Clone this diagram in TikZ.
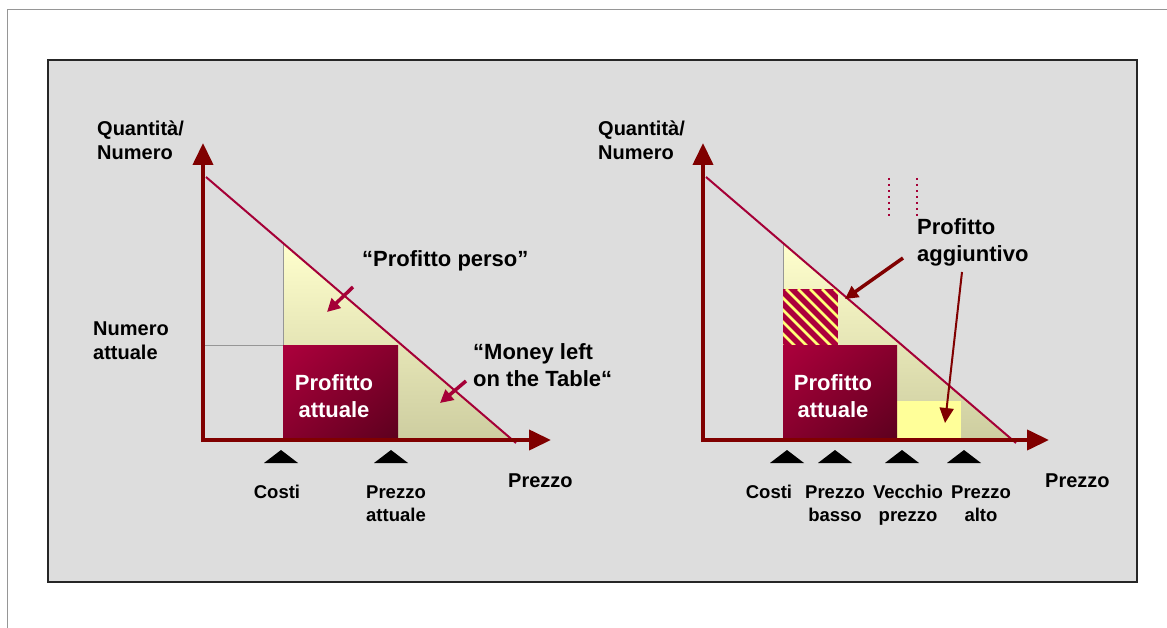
\documentclass[tikz,border=0pt]{standalone}
\usepackage{fontspec}
\setmainfont{Liberation Sans}
\usetikzlibrary{arrows.meta,shadings}
\definecolor{axisred}{RGB}{128,0,0}
\definecolor{demandred}{RGB}{165,0,55}
\definecolor{panelgray}{RGB}{221,221,221}
\definecolor{framegray}{RGB}{150,150,150}
\definecolor{paleyellow}{RGB}{255,255,205}
\definecolor{tanyellow}{RGB}{205,205,160}
\definecolor{profitlight}{RGB}{172,0,60}
\definecolor{profitmid}{RGB}{135,0,45}
\definecolor{profitdark}{RGB}{92,0,30}
\definecolor{brightyellow}{RGB}{255,255,153}
\definecolor{stripeyellow}{RGB}{255,255,120}
\tikzset{
  axis/.style={draw=axisred, line width=4pt, -{Triangle[width=20pt,length=22pt]}},
  demand/.style={draw=demandred, line width=2pt},
  guide/.style={draw=framegray, line width=1pt},
  pointer/.style={line width=3.5pt, -{Triangle[width=13pt,length=13pt]}},
  ticklabel/.style={inner sep=0pt, align=center, font=\bfseries\fontsize{18.5}{23}\selectfont},
  axislabel/.style={inner sep=0pt, align=left, font=\bfseries\fontsize{20}{24}\selectfont},
  notelabel/.style={inner sep=0pt, align=left, font=\bfseries\fontsize{22}{27}\selectfont},
  boxlabel/.style={inner sep=0pt, align=center, text=white, font=\bfseries\fontsize{22}{27}\selectfont},
}
\begin{document}
\begin{tikzpicture}[x=1pt, y=-1pt]
  \useasboundingbox[fill=white] (0,0) rectangle (1167,628);
  % frame and panel
  \draw[framegray, line width=1pt] (7.5,628) -- (7.5,9.5) -- (1167,9.5);
  \draw[fill=panelgray, draw=black!85, line width=1.5pt] (48,60) rectangle (1137,582);

  % ---- left chart ----
  \begin{scope}
    \clip (283,243) -- (283,440) -- (513,440) -- cycle;
    \shade[top color=paleyellow, bottom color=tanyellow] (283,243) rectangle (515,440);
  \end{scope}
  \draw[guide] (283,243) -- (283,440);
  \draw[guide] (203,345) -- (283,345);
  \shade[upper left=profitlight, lower right=profitdark, upper right=profitmid, lower left=profitmid] (283,345) rectangle (398,440);
  \node[boxlabel, anchor=base] (profL) at (334,417) {Profitto\\attuale};
  \draw[demand] (206,177) -- (516,443);
  \draw[axis] (203,442) -- (203,143);
  \draw[axis] (201,440) -- (551,440);
  \foreach \mx in {281,391}
    \fill ({\mx-17},463) -- (\mx,450) -- ({\mx+17},463) -- cycle;

  % last line sits on the given base
  \node[axislabel, anchor=base west] (qtyL) at (97,160) {Quantità/\\Numero};
  \node[axislabel, anchor=base west] (numL) at (93,359) {Numero\\attuale};
  \node[ticklabel, anchor=base] (costL) at (277,498) {Costi};
  \node[ticklabel, anchor=base] (curL) at (396,521) {Prezzo\\attuale};
  \node[axislabel, anchor=base west] (priceL) at (508,487) {Prezzo};
  \node[notelabel, anchor=base west] (lost) at (362,267) {“Profitto perso”};
  \node[notelabel, anchor=base west] (money) at (473,386) {“Money left\\on the Table“};

  \coordinate (lostS) at (353,287);
  \coordinate (lostE) at (327,312);
  \coordinate (moneyS) at (466,381);
  \coordinate (moneyE) at (440,403);
  \draw[pointer, demandred] (lostS) -- (lostE);
  \draw[pointer, demandred] (moneyS) -- (moneyE);

  % ---- right chart ----
  \begin{scope}
    \clip (783,243) -- (783,440) -- (1013,440) -- cycle;
    \shade[top color=paleyellow, bottom color=tanyellow] (783,243) rectangle (1015,440);
  \end{scope}
  \draw[guide] (783,243) -- (783,440);
  \fill[brightyellow] (897,401) rectangle (961,440);
  \begin{scope}
    \clip (783,289) rectangle (838,345);
    \fill[profitlight] (783,289) rectangle (838,345);
    \foreach \k in {-5,...,4}
      \draw[stripeyellow, line width=2.5pt] ({786+\k*12},289) -- ++(60,60);
  \end{scope}
  \shade[upper left=profitlight, lower right=profitdark, upper right=profitmid, lower left=profitmid] (783,345) rectangle (897,440);
  \node[boxlabel, anchor=base] (profR) at (833,417) {Profitto\\attuale};
  \draw[demand] (706,177) -- (1016,443);
  \draw[demandred, line width=2pt, dash pattern=on 2pt off 4pt] (889,178) -- (889,216);
  \draw[demandred, line width=2pt, dash pattern=on 2pt off 4pt] (917,178) -- (917,216);
  \draw[axis] (703,442) -- (703,143);
  \draw[axis] (701,440) -- (1049,440);
  \foreach \mx in {787,835,902,964}
    \fill ({\mx-17},463) -- (\mx,450) -- ({\mx+17},463) -- cycle;

  \node[axislabel, anchor=base west] (qtyR) at (598,160) {Quantità/\\Numero};
  \node[ticklabel, anchor=base] (costR) at (769,498) {Costi};
  \node[ticklabel, anchor=base] (lowR) at (835,521) {Prezzo\\basso};
  \node[ticklabel, anchor=base] (oldR) at (908,521) {Vecchio\\prezzo};
  \node[ticklabel, anchor=base] (highR) at (981,521) {Prezzo\\alto};
  \node[axislabel, anchor=base west] (priceR) at (1045,487) {Prezzo};
  \node[notelabel, anchor=base west] (extra) at (917,262) {Profitto\\aggiuntivo};

  \coordinate (extraS) at (903,258);
  \coordinate (extraE) at (845,299);
  \coordinate (extraT) at (962,272);
  \coordinate (extraF) at (945,423);
  \draw[pointer, axisred] (extraS) -- (extraE);
  \draw[axisred, line width=2pt, -{Triangle[width=14pt,length=15pt]}] (extraT) -- (extraF);
\end{tikzpicture}
\end{document}
